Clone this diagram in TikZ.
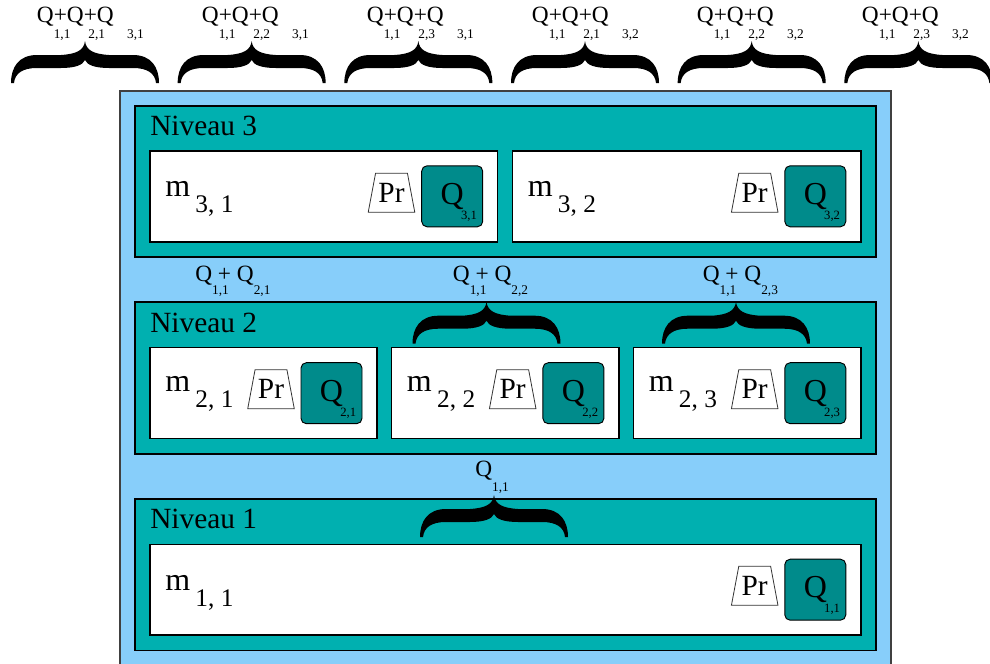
\documentclass[tikz,border=0pt]{standalone}
\usepackage{fontspec}
\setmainfont{Liberation Serif}
\usetikzlibrary{positioning, shapes.geometric}
\definecolor{skyblue}{RGB}{135,206,250}
\definecolor{levelteal}{RGB}{0,176,176}
\definecolor{darkteal}{RGB}{0,139,139}
\newcommand{\qsub}[3][12pt]{Q\rlap{\hspace{#2}\raisebox{-#1}[0pt][0pt]{\fontsize{10}{10}\selectfont #3}}}
\newcommand{\msub}[1]{m\hspace{4pt}\raisebox{-12pt}[0pt][0pt]{\fontsize{19}{19}\selectfont #1}}
\newcommand{\qbox}[1]{Q\rlap{\hspace{-2pt}\raisebox{-11.25pt}[0pt][0pt]{\fontsize{9.5}{9.5}\selectfont #1}}}

\begin{document}
\begin{tikzpicture}
    [
        x=0.75pt, y=-0.75pt,
        outer_box/.style={draw=black!75, fill=skyblue, line width=0.8pt},
        level_box/.style={draw=black, fill=levelteal, line width=0.9pt},
        model_box/.style={draw=black, fill=white, line width=0.9pt},
        level_label/.style={anchor=base west, inner sep=0pt, font=\fontsize{22}{26}\selectfont},
        model_label/.style={anchor=base west, inner sep=0pt, font=\fontsize{24}{28}\selectfont},
        pr_node/.style={minimum width=34.5pt, minimum height=28.8pt, inner sep=0pt, font=\fontsize{22}{22}\selectfont,
            append after command={\pgfextra{\draw[black!80, line width=0.6pt]
                (\tikzlastnode.south west) -- ([xshift=5.5pt]\tikzlastnode.north west)
                -- ([xshift=-5.5pt]\tikzlastnode.north east) -- (\tikzlastnode.south east) -- cycle;}}},
        q_node/.style={draw=black, fill=darkteal, rounded corners=4pt, line width=0.7pt, minimum width=45.75pt, minimum height=45.75pt, inner sep=0pt, font=\fontsize{24}{24}\selectfont},
        sum_label/.style={anchor=base west, inner sep=0pt, font=\fontsize{17.5}{20}\selectfont},
        curly/.pic={
            \fill (0,0) .. controls (-1,9) and (-8,13) .. (-24,14) -- (-48,14)
                .. controls (-66,14) and (-74,26) .. (-74,42) -- (-71,42)
                .. controls (-70,32) and (-62,27) .. (-48,27) -- (-24,27)
                .. controls (-10,27) and (-2,24) .. (0,19)
                .. controls (2,24) and (10,27) .. (24,27) -- (48,27)
                .. controls (62,27) and (70,32) .. (71,42) -- (74,42)
                .. controls (74,26) and (66,14) .. (48,14) -- (24,14)
                .. controls (8,13) and (1,9) .. (0,0) -- cycle;
        },
    ]

  \clip (0,0) rectangle (990,664);

  % frames
  \draw[outer_box] (120,91) rectangle (891,680);
  \draw[level_box] (135,106) rectangle (876,257);
  \draw[level_box] (135,302) rectangle (876,454);
  \draw[level_box] (135,499) rectangle (876,650.5);
  \draw[model_box] (150,151) rectangle (497.5,242);
  \draw[model_box] (512.5,151) rectangle (861,242);
  \draw[model_box] (150,347.5) rectangle (377,438.3);
  \draw[model_box] (391.7,347.5) rectangle (619,438.3);
  \draw[model_box] (633.5,347.5) rectangle (861,438.3);
  \draw[model_box] (150,544.5) rectangle (861,635);

  % niveau 3
  \node[level_label] (N3) at (150,135.7) {Niveau 3};
  \node[model_label] (M31) at (165,196.7) {\msub{3, 1}};
  \node[pr_node] (P31) at (391.5,192.7) {Pr};
  \node[q_node] (Q31) at (452.2,196.3) {\qbox{3,1}};
  \node[model_label] (M32) at (527.5,196.7) {\msub{3, 2}};
  \node[pr_node] (P32) at (754.7,192.7) {Pr};
  \node[q_node] (Q32) at (815.3,196.3) {\qbox{3,2}};

  % niveau 2
  \node[level_label] (N2) at (150,332.7) {Niveau 2};
  \node[model_label] (M21) at (165,391.7) {\msub{2, 1}};
  \node[pr_node] (P21) at (271,389.2) {Pr};
  \node[q_node] (Q21) at (331.5,393.2) {\qbox{2,1}};
  \node[model_label] (M22) at (406.7,391.7) {\msub{2, 2}};
  \node[pr_node] (P22) at (512.7,389.2) {Pr};
  \node[q_node] (Q22) at (573.4,393.2) {\qbox{2,2}};
  \node[model_label] (M23) at (648.5,391.7) {\msub{2, 3}};
  \node[pr_node] (P23) at (754.7,389.2) {Pr};
  \node[q_node] (Q23) at (815.3,393.2) {\qbox{2,3}};

  % niveau 1
  \node[level_label] (N1) at (150,528) {Niveau 1};
  \node[model_label] (M11) at (165,590) {\msub{1, 1}};
  \node[pr_node] (P11) at (754.7,585.8) {Pr};
  \node[q_node] (Q11) at (815.3,589.7) {\qbox{1,1}};

  % sommes
  \foreach \b/\c [count=\k from 0] in {1/1, 2/1, 3/1, 1/2, 2/2, 3/2}
  {
    \pic at ({85+166.67*\k},41) {curly};
    \node[sum_label] (S\k) at ({36.7+165*\k},22) {\qsub{0pt}{1,1}+\qsub{3.4pt}{2,\b}+\qsub{10pt}{3,\c}};
  }
  \node[sum_label] (S21) at (195,281.7) {\qsub[9.5pt]{0pt}{1,1} + \qsub[9.5pt]{0pt}{2,1}};
  \node[sum_label] (S22) at (452.7,281.7) {\qsub[9.5pt]{0pt}{1,1} + \qsub[9.5pt]{0pt}{2,2}};
  \node[sum_label] (S23) at (702.5,281.7) {\qsub[9.5pt]{0pt}{1,1} + \qsub[9.5pt]{0pt}{2,3}};
  \pic at (486.5,301.7) {curly};
  \pic at (736,301.7) {curly};
  \node[sum_label] (S11) at (475,476.7) {\qsub[11.25pt]{0pt}{1,1}};
  \pic at (494,495) {curly};
\end{tikzpicture}
\end{document}
